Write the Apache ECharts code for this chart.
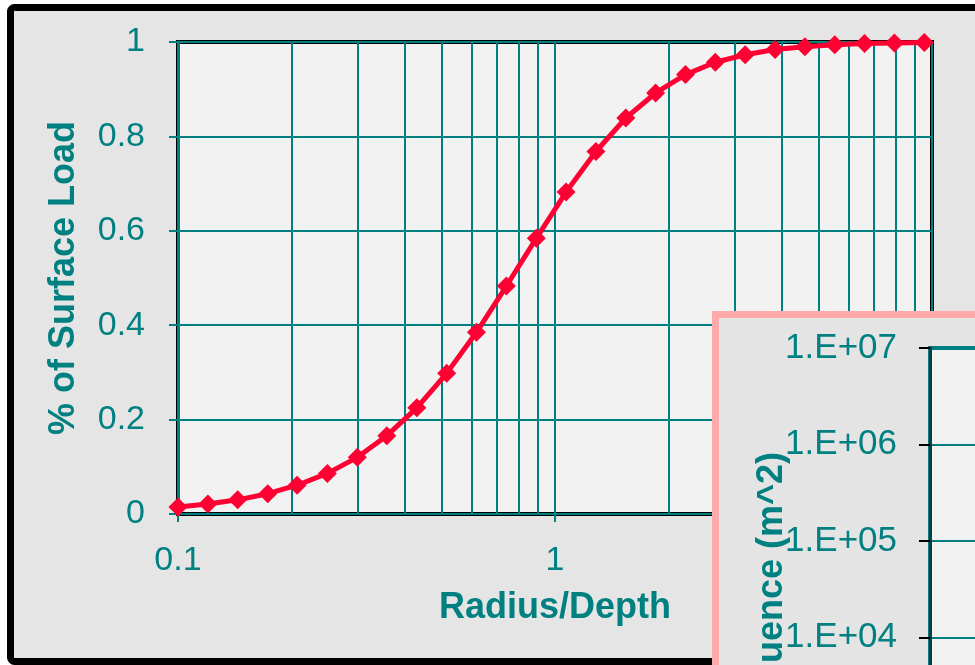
<!DOCTYPE html>
<html>
<head>
<meta charset="utf-8">
<script src="https://cdn.jsdelivr.net/npm/echarts@6/dist/echarts.min.js"></script>
<style>
  html, body { margin: 0; padding: 0; background: #ffffff; }
  #chart { width: 975px; height: 665px; }
</style>
</head>
<body>
<div id="chart"></div>
<script>
// Radius/Depth values (log spaced) and % of surface load
const radiusDepth = [0.1, 0.12, 0.144, 0.173, 0.207, 0.249, 0.299, 0.358, 0.43, 0.516,
                     0.619, 0.743, 0.892, 1.07, 1.284, 1.541, 1.849, 2.219, 2.662, 3.195,
                     3.834, 4.601, 5.521, 6.625, 7.95, 9.54];
const surfaceLoad = [0.015, 0.021, 0.03, 0.043, 0.061, 0.086, 0.12, 0.166, 0.225, 0.298,
                     0.385, 0.483, 0.584, 0.682, 0.768, 0.839, 0.892, 0.931, 0.957, 0.973,
                     0.984, 0.99, 0.994, 0.997, 0.998, 0.999];
// minor gridlines of the log x axis
const minorX = [0.2, 0.3, 0.4, 0.5, 0.6, 0.7, 0.8, 0.9, 2, 3, 4, 5, 6, 7, 8, 9];

const TEAL = '#008080';
const FONT = 'Liberation Sans';

const chart = echarts.init(document.getElementById('chart'));

function expLabel(v) {
    const e = Math.round(Math.log10(v));
    return '1.E+' + String(e).padStart(2, '0');
}

const option = {
    backgroundColor: 'transparent',
    animation: false,
    graphic: [
        // outer frame
        {
            type: 'rect', z: -10, silent: true,
            shape: { x: 10.5, y: 7.5, width: 1100, height: 654, r: 4 },
            style: {
                fill: '#e5e5e5', stroke: '#000', lineWidth: 7
            }
        },
        // inset chart frame
        {
            type: 'rect', z: 10, silent: true,
            shape: { x: 715.5, y: 314.5, width: 500, height: 500 },
            style: { fill: '#e4e4e4', stroke: '#ffaaaa', lineWidth: 7 }
        },
        // inset y axis title (cut off by the edge)
        {
            type: 'text', z: 30, silent: true,
            x: 772, y: 452, rotation: Math.PI / 2,
            style: {
                text: 'Area of Influence (m^2)',
                fill: TEAL, font: 'bold 36px "Liberation Sans"',
                align: 'right', verticalAlign: 'middle'
            }
        }
    ],
    grid: [
        {
            left: 178, top: 42, width: 754, height: 472,
            outerBoundsMode: 'none', containLabel: false,
            show: true, backgroundColor: '#f2f2f2',
            borderColor: '#000', borderWidth: 4, z: 1
        },
        {
            left: 930, top: 348, width: 300, height: 482.5,
            outerBoundsMode: 'none', containLabel: false,
            show: true, backgroundColor: '#f2f2f2',
            borderColor: TEAL, borderWidth: 4, z: 20
        }
    ],
    xAxis: [
        {
            type: 'log', logBase: 10, min: 0.1, max: 10, gridIndex: 0, z: 3,
            name: 'Radius/Depth', nameLocation: 'middle', nameGap: 76,
            nameTextStyle: { color: TEAL, fontSize: 36, fontWeight: 'bold', fontFamily: FONT },
            axisLine: { show: true, lineStyle: { color: TEAL, width: 2 } },
            axisTick: { show: true, length: 8, lineStyle: { color: TEAL, width: 2 } },
            axisLabel: { color: TEAL, fontSize: 34, fontFamily: FONT, margin: 30 },
            splitLine: { show: true, lineStyle: { color: TEAL, width: 2 } },
            minorTick: { show: false }
        },
        {
            type: 'value', min: 0, max: 1, gridIndex: 1, show: false, z: 21
        }
    ],
    yAxis: [
        {
            type: 'value', min: 0, max: 1, interval: 0.2, gridIndex: 0, z: 3,
            name: '% of Surface Load', nameLocation: 'middle', nameGap: 96,
            nameTextStyle: { color: TEAL, fontSize: 36, fontWeight: 'bold', fontFamily: FONT },
            axisLine: { show: true, lineStyle: { color: TEAL, width: 3 } },
            axisTick: { show: true, length: 9, lineStyle: { color: TEAL, width: 2 } },
            axisLabel: { color: TEAL, fontSize: 34, fontFamily: FONT, margin: 33 },
            splitLine: { show: true, lineStyle: { color: TEAL, width: 2 } }
        },
        {
            type: 'log', logBase: 10, min: 100, max: 1e7, gridIndex: 1, z: 22,
            axisLine: { show: true, lineStyle: { color: '#0b3d3d', width: 3 } },
            axisTick: { show: true, length: 11, lineStyle: { color: '#000', width: 2 } },
            axisLabel: { color: TEAL, fontSize: 35, fontFamily: FONT, margin: 33, formatter: expLabel },
            splitLine: { show: true, lineStyle: { color: TEAL, width: 2 } },
            minorTick: { show: false }
        }
    ],
    series: [
        {
            // minor vertical gridlines drawn under the curve
            type: 'line', xAxisIndex: 0, yAxisIndex: 0, z: 2,
            data: [[0.1, 0]], symbol: 'none', lineStyle: { width: 0 },
            silent: true,
            markLine: {
                silent: true, symbol: 'none', label: { show: false },
                lineStyle: { color: TEAL, width: 2, type: 'solid' },
                data: minorX.map(v => ({ xAxis: v }))
            }
        },
        {
            type: 'line', xAxisIndex: 0, yAxisIndex: 0, z: 5,
            data: radiusDepth.map((r, i) => [r, surfaceLoad[i]]),
            symbol: 'diamond', symbolSize: 19,
            itemStyle: { color: '#ff0033' },
            lineStyle: { color: '#ff0033', width: 5 },
            smooth: false
        }
    ]
};

chart.setOption(option);
</script>
</body>
</html>
